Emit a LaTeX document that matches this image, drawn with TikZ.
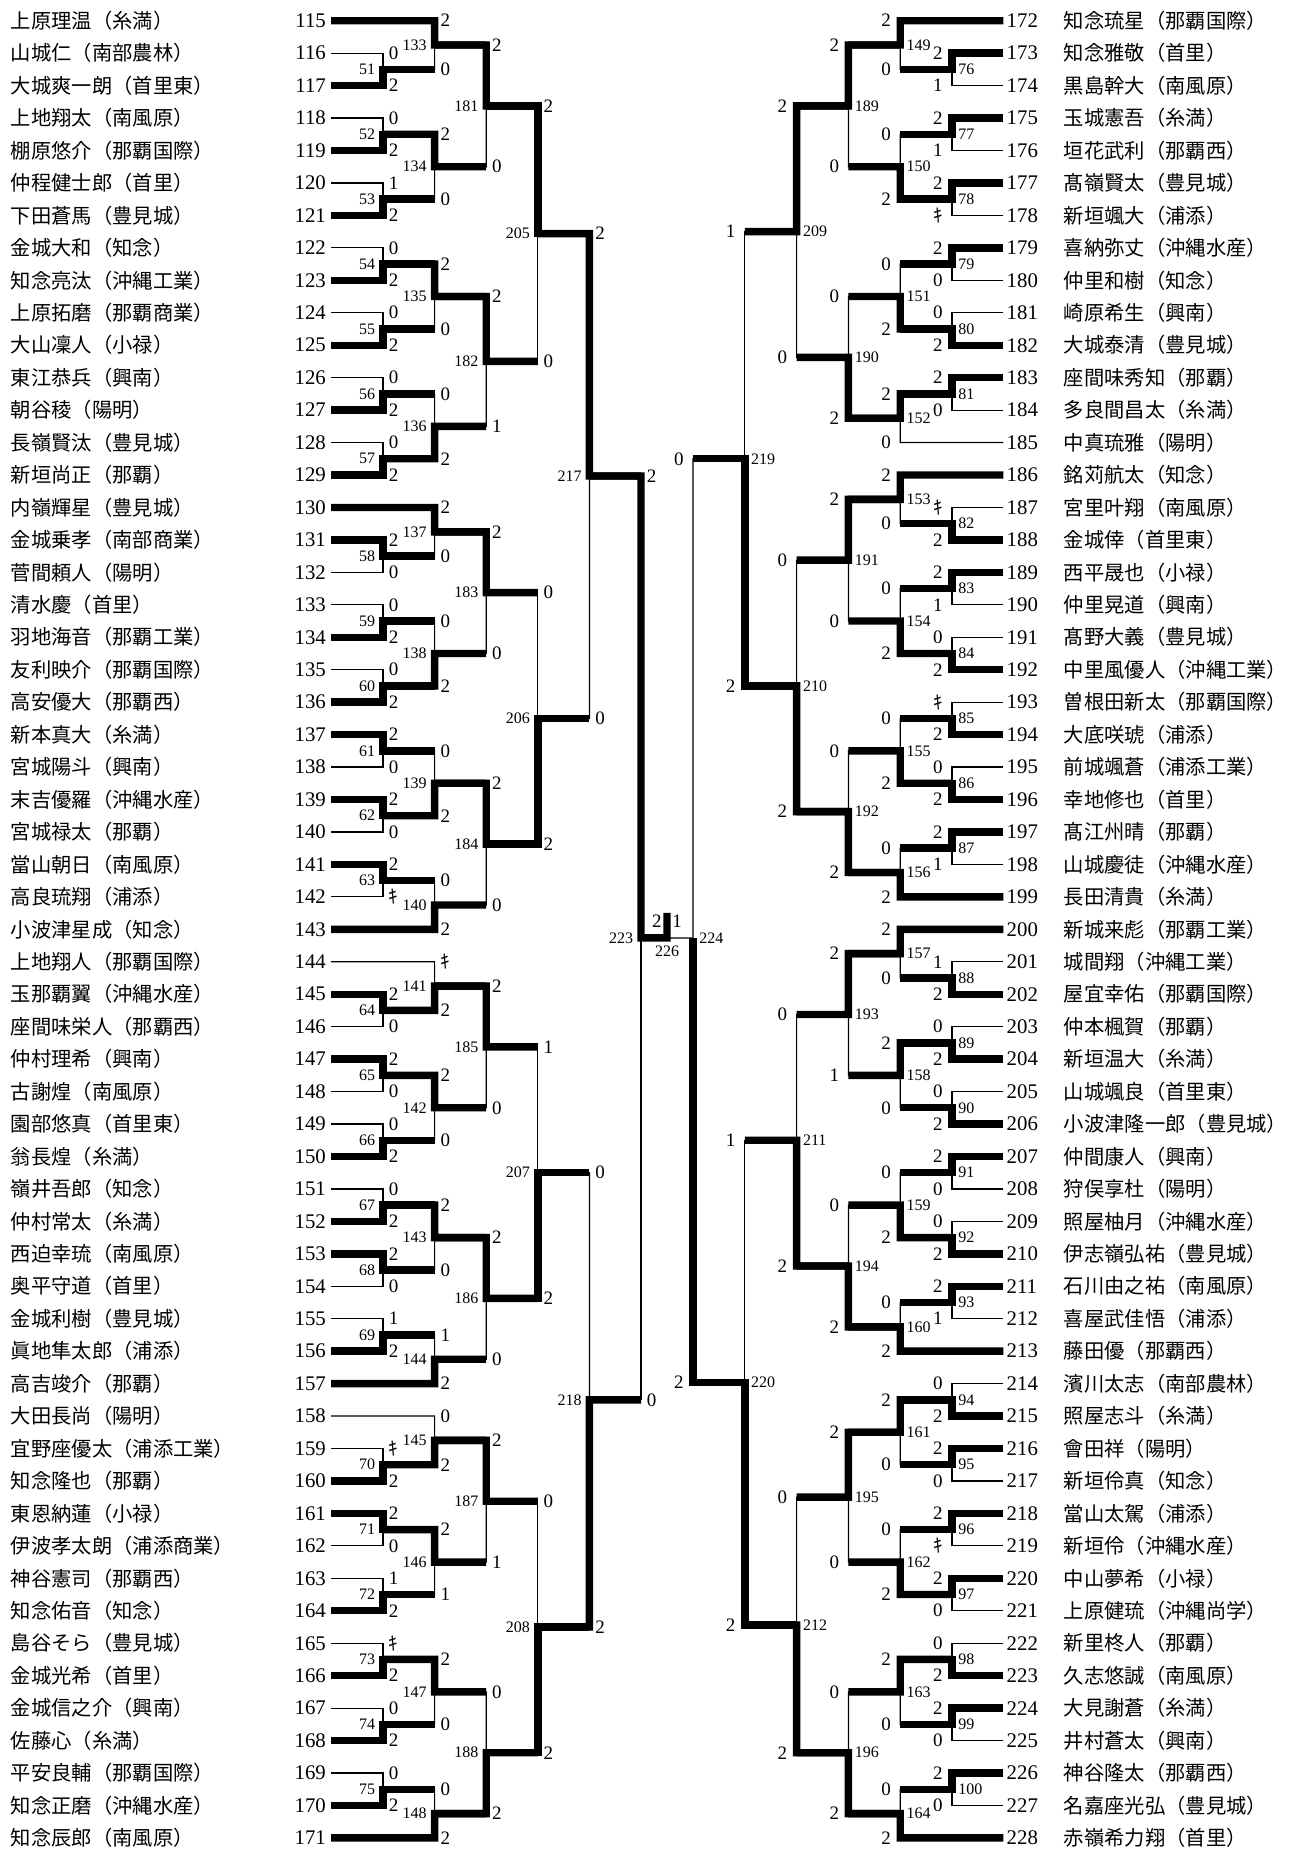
\documentclass[tikz,border=0pt]{standalone}
\usepackage{fontspec}
\setmainfont{Liberation Serif}
\newfontfamily\cjk{Noto Sans CJK JP}
\usetikzlibrary{calc}

\newcommand{\kiken}{{\cjk ｷ}}
% left match: number, column, winner, loser, winner score, loser score
\newcommand{\lmatch}[6]{%
  \coordinate (m#1) at ($(#3 -| #2)!0.5!(#4 -| #2)$);
  \draw[win] (#3) -- (#3 -| #2) -- (m#1) -- ++(51.6,0);
  \draw[lose] (#4) -- (#4 -| #2) -- (m#1);
  \node[score, anchor=west] (s#1w) at ($(#3 -| #2)+(5.5,0)$) {#5};
  \node[score, anchor=west] (s#1l) at ($(#4 -| #2)+(5.5,0)$) {#6};
  \node[mlab, anchor=east] (l#1) at ($(m#1)+(-7.5,0)$) {#1};
}
% right match: same, mirrored
\newcommand{\rmatch}[6]{%
  \coordinate (m#1) at ($(#3 -| #2)!0.5!(#4 -| #2)$);
  \draw[win] (#3) -- (#3 -| #2) -- (m#1) -- ++(-51.8,0);
  \draw[lose] (#4) -- (#4 -| #2) -- (m#1);
  \node[score, anchor=east] (s#1w) at ($(#3 -| #2)+(-9,0)$) {#5};
  \node[score, anchor=east] (s#1l) at ($(#4 -| #2)+(-9,0)$) {#6};
  \node[mlab, anchor=west] (l#1) at ($(m#1)+(6,0)$) {#1};
}

\begin{document}
\begin{tikzpicture}[x=0.5pt, y=-0.5pt,
  win/.style={line width=3.7pt},
  lose/.style={line width=0.6pt},
  pname/.style={inner sep=0, font=\cjk\fontsize{10.15}{12}\selectfont},
  pnum/.style={inner sep=0, font=\fontsize{10.4}{12}\selectfont},
  score/.style={inner sep=0, font=\fontsize{9.5}{11}\selectfont},
  mlab/.style={inner sep=0, font=\fontsize{8}{9}\selectfont}]
\useasboundingbox (0,0) rectangle (1304,1849);
\fill[white] (0,0) rectangle (1304,1849);

\coordinate (L1) at (383,0);
\coordinate (L2) at (434.6,0);
\coordinate (L3) at (486.2,0);
\coordinate (L4) at (537.8,0);
\coordinate (L5) at (589.4,0);
\coordinate (L6) at (641,0);
\coordinate (R1) at (952,0);
\coordinate (R2) at (900.2,0);
\coordinate (R3) at (848.4,0);
\coordinate (R4) at (796.6,0);
\coordinate (R5) at (744.8,0);
\coordinate (R6) at (693,0);

% players, left block
\foreach \nm [count=\k from 0] in {上原理温（糸満）,山城仁（南部農林）,大城爽一朗（首里東）,
  上地翔太（南風原）,棚原悠介（那覇国際）,仲程健士郎（首里）,下田蒼馬（豊見城）,金城大和（知念）,
  知念亮汰（沖縄工業）,上原拓磨（那覇商業）,大山凜人（小禄）,東江恭兵（興南）,朝谷稜（陽明）,
  長嶺賢汰（豊見城）,新垣尚正（那覇）,内嶺輝星（豊見城）,金城乗孝（南部商業）,菅間頼人（陽明）,
  清水慶（首里）,羽地海音（那覇工業）,友利映介（那覇国際）,高安優大（那覇西）,新本真大（糸満）,
  宮城陽斗（興南）,末吉優羅（沖縄水産）,宮城禄太（那覇）,當山朝日（南風原）,高良琉翔（浦添）,
  小波津星成（知念）,上地翔人（那覇国際）,玉那覇翼（沖縄水産）,座間味栄人（那覇西）,仲村理希（興南）,
  古謝煌（南風原）,園部悠真（首里東）,翁長煌（糸満）,嶺井吾郎（知念）,仲村常太（糸満）,
  西迫幸琉（南風原）,奥平守道（首里）,金城利樹（豊見城）,眞地隼太郎（浦添）,高吉竣介（那覇）,
  大田長尚（陽明）,宜野座優太（浦添工業）,知念隆也（那覇）,東恩納蓮（小禄）,伊波孝太朗（浦添商業）,
  神谷憲司（那覇西）,知念佑音（知念）,島谷そら（豊見城）,金城光希（首里）,金城信之介（興南）,
  佐藤心（糸満）,平安良輔（那覇国際）,知念正磨（沖縄水産）,知念辰郎（南風原）} {
  \pgfmathtruncatemacro{\id}{115+\k}
  \node[pname, anchor=west] (n\id) at (10.5, 20.7+32.45*\k) {\nm};
  \node[pnum, anchor=east] (q\id) at (326.2, 20.7+32.45*\k) {\id};
  \coordinate (p\id) at (331, 20.7+32.45*\k);
}
% players, right block
\foreach \nm [count=\k from 0] in {知念琉星（那覇国際）,知念雅敬（首里）,黒島幹大（南風原）,
  玉城憲吾（糸満）,垣花武利（那覇西）,髙嶺賢太（豊見城）,新垣颯大（浦添）,喜納弥丈（沖縄水産）,
  仲里和樹（知念）,崎原希生（興南）,大城泰清（豊見城）,座間味秀知（那覇）,多良間昌太（糸満）,
  中真琉雅（陽明）,銘苅航太（知念）,宮里叶翔（南風原）,金城倖（首里東）,西平晟也（小禄）,
  仲里晃道（興南）,髙野大義（豊見城）,中里風優人（沖縄工業）,曽根田新太（那覇国際）,大底咲琥（浦添）,
  前城颯蒼（浦添工業）,幸地修也（首里）,髙江州晴（那覇）,山城慶徒（沖縄水産）,長田清貴（糸満）,
  新城来彪（那覇工業）,城間翔（沖縄工業）,屋宜幸佑（那覇国際）,仲本楓賀（那覇）,新垣温大（糸満）,
  山城颯良（首里東）,小波津隆一郎（豊見城）,仲間康人（興南）,狩俣享杜（陽明）,照屋柚月（沖縄水産）,
  伊志嶺弘祐（豊見城）,石川由之祐（南風原）,喜屋武佳悟（浦添）,藤田優（那覇西）,濱川太志（南部農林）,
  照屋志斗（糸満）,會田祥（陽明）,新垣伶真（知念）,當山太駕（浦添）,新垣伶（沖縄水産）,
  中山夢希（小禄）,上原健琉（沖縄尚学）,新里柊人（那覇）,久志悠誠（南風原）,大見謝蒼（糸満）,
  井村蒼太（興南）,神谷隆太（那覇西）,名嘉座光弘（豊見城）,赤嶺希力翔（首里）} {
  \pgfmathtruncatemacro{\id}{172+\k}
  \node[pnum, anchor=west] (q\id) at (1006.3, 20.7+32.45*\k) {\id};
  \node[pname, anchor=west] (n\id) at (1063.5, 20.7+32.45*\k) {\nm};
  \coordinate (p\id) at (1003.4, 20.7+32.45*\k);
}

% left, round 1
\lmatch{51}{L1}{p117}{p116}{2}{0}
\lmatch{52}{L1}{p119}{p118}{2}{0}
\lmatch{53}{L1}{p121}{p120}{2}{1}
\lmatch{54}{L1}{p123}{p122}{2}{0}
\lmatch{55}{L1}{p125}{p124}{2}{0}
\lmatch{56}{L1}{p127}{p126}{2}{0}
\lmatch{57}{L1}{p129}{p128}{2}{0}
\lmatch{58}{L1}{p131}{p132}{2}{0}
\lmatch{59}{L1}{p134}{p133}{2}{0}
\lmatch{60}{L1}{p136}{p135}{2}{0}
\lmatch{61}{L1}{p137}{p138}{2}{0}
\lmatch{62}{L1}{p139}{p140}{2}{0}
\lmatch{63}{L1}{p141}{p142}{2}{\kiken}
\lmatch{64}{L1}{p145}{p146}{2}{0}
\lmatch{65}{L1}{p147}{p148}{2}{0}
\lmatch{66}{L1}{p150}{p149}{2}{0}
\lmatch{67}{L1}{p152}{p151}{2}{0}
\lmatch{68}{L1}{p153}{p154}{2}{0}
\lmatch{69}{L1}{p156}{p155}{2}{1}
\lmatch{70}{L1}{p160}{p159}{2}{\kiken}
\lmatch{71}{L1}{p161}{p162}{2}{0}
\lmatch{72}{L1}{p164}{p163}{2}{1}
\lmatch{73}{L1}{p166}{p165}{2}{\kiken}
\lmatch{74}{L1}{p168}{p167}{2}{0}
\lmatch{75}{L1}{p170}{p169}{2}{0}
% left, round 2
\lmatch{133}{L2}{p115}{m51}{2}{0}
\lmatch{134}{L2}{m52}{m53}{2}{0}
\lmatch{135}{L2}{m54}{m55}{2}{0}
\lmatch{136}{L2}{m57}{m56}{2}{0}
\lmatch{137}{L2}{p130}{m58}{2}{0}
\lmatch{138}{L2}{m60}{m59}{2}{0}
\lmatch{139}{L2}{m62}{m61}{2}{0}
\lmatch{140}{L2}{p143}{m63}{2}{0}
\lmatch{141}{L2}{m64}{p144}{2}{\kiken}
\lmatch{142}{L2}{m65}{m66}{2}{0}
\lmatch{143}{L2}{m67}{m68}{2}{0}
\lmatch{144}{L2}{p157}{m69}{2}{1}
\lmatch{145}{L2}{m70}{p158}{2}{0}
\lmatch{146}{L2}{m71}{m72}{2}{1}
\lmatch{147}{L2}{m73}{m74}{2}{0}
\lmatch{148}{L2}{p171}{m75}{2}{0}
% left, rounds 3 to 5
\lmatch{181}{L3}{m133}{m134}{2}{0}
\lmatch{182}{L3}{m135}{m136}{2}{1}
\lmatch{183}{L3}{m137}{m138}{2}{0}
\lmatch{184}{L3}{m139}{m140}{2}{0}
\lmatch{185}{L3}{m141}{m142}{2}{0}
\lmatch{186}{L3}{m143}{m144}{2}{0}
\lmatch{187}{L3}{m145}{m146}{2}{1}
\lmatch{188}{L3}{m148}{m147}{2}{0}
\lmatch{205}{L4}{m181}{m182}{2}{0}
\lmatch{206}{L4}{m184}{m183}{2}{0}
\lmatch{207}{L4}{m186}{m185}{2}{1}
\lmatch{208}{L4}{m188}{m187}{2}{0}
\lmatch{217}{L5}{m205}{m206}{2}{0}
\lmatch{218}{L5}{m208}{m207}{2}{0}

% right, round 1
\rmatch{76}{R1}{p173}{p174}{2}{1}
\rmatch{77}{R1}{p175}{p176}{2}{1}
\rmatch{78}{R1}{p177}{p178}{2}{\kiken}
\rmatch{79}{R1}{p179}{p180}{2}{0}
\rmatch{80}{R1}{p182}{p181}{2}{0}
\rmatch{81}{R1}{p183}{p184}{2}{0}
\rmatch{82}{R1}{p188}{p187}{2}{\kiken}
\rmatch{83}{R1}{p189}{p190}{2}{1}
\rmatch{84}{R1}{p192}{p191}{2}{0}
\rmatch{85}{R1}{p194}{p193}{2}{\kiken}
\rmatch{86}{R1}{p196}{p195}{2}{0}
\rmatch{87}{R1}{p197}{p198}{2}{1}
\rmatch{88}{R1}{p202}{p201}{2}{1}
\rmatch{89}{R1}{p204}{p203}{2}{0}
\rmatch{90}{R1}{p206}{p205}{2}{0}
\rmatch{91}{R1}{p207}{p208}{2}{0}
\rmatch{92}{R1}{p210}{p209}{2}{0}
\rmatch{93}{R1}{p211}{p212}{2}{1}
\rmatch{94}{R1}{p215}{p214}{2}{0}
\rmatch{95}{R1}{p216}{p217}{2}{0}
\rmatch{96}{R1}{p218}{p219}{2}{\kiken}
\rmatch{97}{R1}{p220}{p221}{2}{0}
\rmatch{98}{R1}{p223}{p222}{2}{0}
\rmatch{99}{R1}{p224}{p225}{2}{0}
\rmatch{100}{R1}{p226}{p227}{2}{0}
% right, round 2
\rmatch{149}{R2}{p172}{m76}{2}{0}
\rmatch{150}{R2}{m78}{m77}{2}{0}
\rmatch{151}{R2}{m80}{m79}{2}{0}
\rmatch{152}{R2}{m81}{p185}{2}{0}
\rmatch{153}{R2}{p186}{m82}{2}{0}
\rmatch{154}{R2}{m84}{m83}{2}{0}
\rmatch{155}{R2}{m86}{m85}{2}{0}
\rmatch{156}{R2}{p199}{m87}{2}{0}
\rmatch{157}{R2}{p200}{m88}{2}{0}
\rmatch{158}{R2}{m89}{m90}{2}{0}
\rmatch{159}{R2}{m92}{m91}{2}{0}
\rmatch{160}{R2}{p213}{m93}{2}{0}
\rmatch{161}{R2}{m94}{m95}{2}{0}
\rmatch{162}{R2}{m97}{m96}{2}{0}
\rmatch{163}{R2}{m98}{m99}{2}{0}
\rmatch{164}{R2}{p228}{m100}{2}{0}
% right, rounds 3 to 5
\rmatch{189}{R3}{m149}{m150}{2}{0}
\rmatch{190}{R3}{m152}{m151}{2}{0}
\rmatch{191}{R3}{m153}{m154}{2}{0}
\rmatch{192}{R3}{m156}{m155}{2}{0}
\rmatch{193}{R3}{m157}{m158}{2}{1}
\rmatch{194}{R3}{m160}{m159}{2}{0}
\rmatch{195}{R3}{m161}{m162}{2}{0}
\rmatch{196}{R3}{m164}{m163}{2}{0}
\rmatch{209}{R4}{m189}{m190}{2}{0}
\rmatch{210}{R4}{m192}{m191}{2}{0}
\rmatch{211}{R4}{m194}{m193}{2}{0}
\rmatch{212}{R4}{m196}{m195}{2}{0}
\rmatch{219}{R5}{m210}{m209}{2}{1}
\rmatch{220}{R5}{m212}{m211}{2}{1}

% semifinals and final
\coordinate (m223) at ($(m217 -| L6)!0.5!(m218 -| L6)$);
\coordinate (m224) at (m223 -| R6);
\coordinate (fin) at ($(m223)!0.5!(m224)$);
\coordinate (champ) at ($(fin)+(0,-25)$);
\draw[win] (m217) -- (m217 -| L6) -- (m223) -- (fin) -- (champ);
\draw[lose] (m218) -- (m218 -| L6) -- (m223);
\draw[lose] (m219) -- (m219 -| R6) -- (m224) -- (fin);
\draw[win] (m220) -- (m220 -| R6) -- (m224);
\node[score, anchor=west] (s223w) at ($(m217 -| L6)+(5.5,0)$) {2};
\node[score, anchor=west] (s223l) at ($(m218 -| L6)+(5.5,0)$) {0};
\node[score, anchor=east] (s224l) at ($(m219 -| R6)+(-9,0)$) {0};
\node[score, anchor=east] (s224w) at ($(m220 -| R6)+(-9,0)$) {2};
\node[mlab, anchor=east] (l223) at ($(m223)+(-7.5,0)$) {223};
\node[mlab, anchor=west] (l224) at ($(m224)+(6,0)$) {224};
\node[score, anchor=east] (s226w) at ($(fin)+(-5,-17)$) {2};
\node[score, anchor=west] (s226l) at ($(fin)+(5,-17)$) {1};
\node[mlab] (l226) at ($(fin)+(0,13)$) {226};
\end{tikzpicture}
\end{document}
